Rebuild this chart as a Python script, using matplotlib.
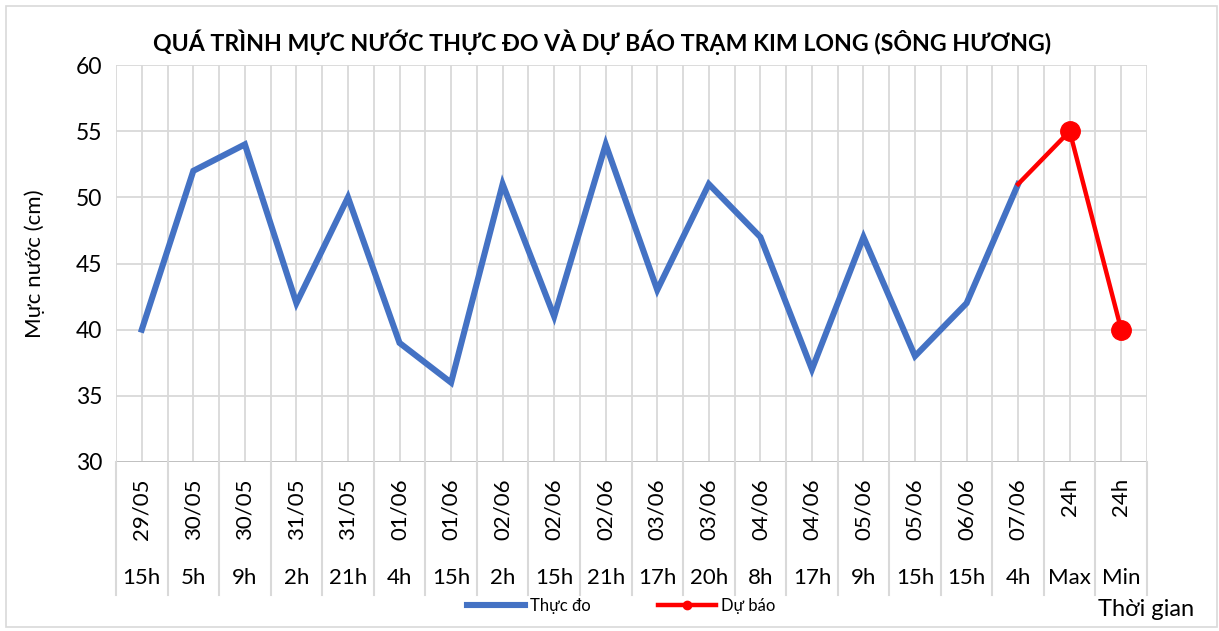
import numpy as np
import matplotlib.pyplot as plt
from matplotlib.patches import Rectangle
from matplotlib.lines import Line2D

plt.rcParams['font.family'] = ['Lato', 'DejaVu Sans']

dates = ["29/05", "30/05", "30/05", "31/05", "31/05", "01/06", "01/06", "02/06",
         "02/06", "02/06", "03/06", "03/06", "04/06", "04/06", "05/06", "05/06",
         "06/06", "07/06", "24h", "24h"]
hours = ["15h", "5h", "9h", "2h", "21h", "4h", "15h", "2h", "15h", "21h", "17h",
         "20h", "8h", "17h", "9h", "15h", "15h", "4h", "Max", "Min"]
observed = [40, 52, 54, 42, 50, 39, 36, 51, 41, 54, 43, 51, 47, 37, 47, 38, 42, 51]
forecast = [51, 55, 40]   # from 07/06 4h to Max, Min

W, H = 1219, 631
fig = plt.figure(figsize=(W / 100, H / 100), dpi=100)
fig.patches.append(Rectangle((6 / W, 4 / H), (W - 8) / W, (H - 10) / H,
                             transform=fig.transFigure, fill=False,
                             edgecolor="#d9d9d9", lw=1.2))

left, right, top, bottom = 116, 1147, 65, 462
ax = fig.add_axes([left / W, 1 - bottom / H, (right - left) / W, (bottom - top) / H])

x = np.arange(len(dates))
grid_c = "#d9d9d9"
for yv in range(30, 61, 5):
    ax.axhline(yv, color=grid_c, lw=1.3, zorder=0)
for xv in np.arange(-0.5, len(dates), 0.5):
    ax.axvline(xv, color=grid_c, lw=1.3, zorder=0)

ax.plot(x[:len(observed)], observed, color="#4472C4", lw=4.4, solid_joinstyle="miter", zorder=3)
xf = x[len(observed) - 1:]
ax.plot(xf, forecast, color="#FF0000", lw=3.2, zorder=4)
ax.plot(xf[1:], forecast[1:], "o", color="#FF0000", ms=14, zorder=5)

ax.set_xlim(-0.5, len(dates) - 0.5)
ax.set_ylim(30, 60)
ax.set_yticks(range(30, 61, 5))
ax.set_xticks([])
for s in ax.spines.values():
    s.set_visible(False)
ax.tick_params(axis="y", length=0, labelsize=16.5, pad=10)
ax.axhline(30, color="#bfbfbf", lw=1.3, zorder=1)

# multi-level category axis
tr = ax.get_xaxis_transform()
depth = -(595 - bottom) / (bottom - top)
for xv in np.arange(-0.5, len(dates), 1.0):
    ax.plot([xv, xv], [0, depth], color=grid_c, lw=1.5, transform=tr, clip_on=False)
for i in x:
    ax.text(i, -(478 - bottom) / (bottom - top), dates[i], rotation=90, ha="center",
            va="top", fontsize=16, transform=tr)
    ax.text(i, -(578 - bottom) / (bottom - top), hours[i], ha="center",
            va="center", fontsize=16, transform=tr)

ax.set_ylabel("Mực nước (cm)", fontsize=16, labelpad=22)
fig.text(0.494, 1 - 42 / H, "QUÁ TRÌNH MỰC NƯỚC THỰC ĐO VÀ DỰ BÁO TRẠM KIM LONG (SÔNG HƯƠNG)",
         ha="center", va="center", fontsize=16.7, fontweight="bold")
fig.text(1146 / W, 1 - 609 / H, "Thời gian", ha="center", va="center", fontsize=17)

handles = [Line2D([], [], color="#4472C4", lw=4.4),
           Line2D([], [], color="#FF0000", lw=3.2, marker="o", ms=6)]
fig.legend(handles, ["Thực đo", "Dự báo"], loc="center", bbox_to_anchor=(621 / W, 1 - 606 / H),
           ncol=2, frameon=False, fontsize=12, handlelength=3.5, columnspacing=4,
           handletextpad=0.3)

fig.savefig("out.png", dpi=100)
